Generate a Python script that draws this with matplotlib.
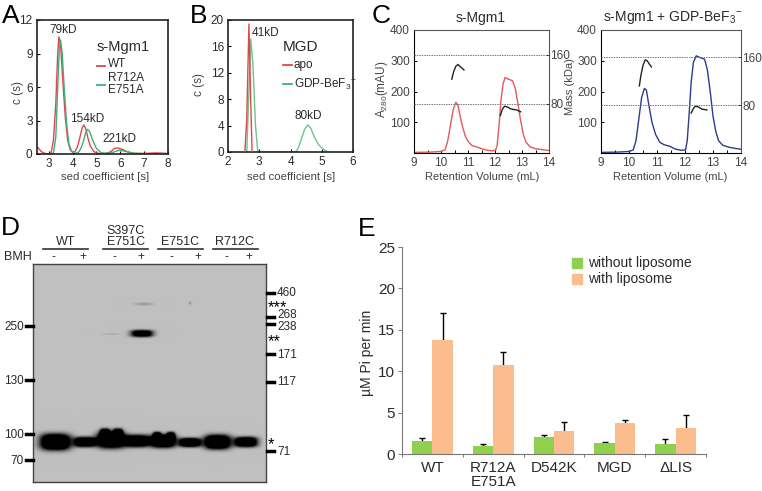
import matplotlib
matplotlib.use("Agg")
import matplotlib.pyplot as plt
import numpy as np

plt.rcParams['font.family'] = ['Liberation Sans', 'DejaVu Sans']
plt.rcParams['mathtext.default'] = 'regular'

W, H = 762, 491
TEXT = '#2a2a2a'
RED = '#e0474c'
GREEN = '#3fae7a'
LGREEN = '#6cc58a'
BLUE = '#2f3a8c'

# panel A
a_wt_x = [2.5, 2.6, 2.7, 2.85, 3.0, 3.1, 3.2, 3.3, 3.38, 3.43, 3.5, 3.58, 3.7, 3.8, 3.9, 4.0, 4.1, 4.2, 4.3, 4.4, 4.47, 4.55, 4.65, 4.75, 4.9, 5.1, 5.4, 5.6, 5.75, 5.9, 6.1, 6.3, 6.6, 7, 7.5, 8]
a_wt_y = [0.7, 0.45, 0.2, 0.05, 0, 0.1, 1.2, 4.5, 9, 10.5, 9.8, 7, 3.2, 1.2, 0.4, 0.15, 0.2, 0.6, 1.4, 2.3, 2.6, 2.3, 1.4, 0.7, 0.2, 0.05, 0.05, 0.2, 0.5, 0.55, 0.4, 0.2, 0.05, 0.05, 0.1, 0.05]
a_mut_x = [3.1, 3.2, 3.3, 3.38, 3.45, 3.5, 3.57, 3.65, 3.75, 3.85, 3.95, 4.1, 4.25, 4.35, 4.45, 4.55, 4.63, 4.72, 4.85, 5, 5.2, 5.5, 5.7, 5.95, 6.2, 6.5, 7, 8]
a_mut_y = [0, 0.1, 1.5, 6, 9.5, 10.2, 9, 6, 2.8, 0.9, 0.3, 0.05, 0.15, 0.5, 1.1, 1.9, 2.2, 2, 1.2, 0.5, 0.1, 0.05, 0.15, 0.35, 0.25, 0.08, 0.03, 0.03]

# panel B
b_apo_x = [2.54, 2.6, 2.67, 2.72, 2.77]
b_apo_y = [0, 5, 19.4, 9, 0]
b_gdp_x = [2.6, 2.73, 2.8, 2.88, 2.95, 3.0, 4.17, 4.25, 4.35, 4.45, 4.55, 4.65, 4.75, 4.9, 5.05, 5.2]
b_gdp_y = [0, 17.1, 13, 4, 0.2, 0, 0, 0.6, 2, 3.4, 4.1, 3.6, 2.4, 1.1, 0.4, 0]

# panel C
c1_x = [9, 9.6, 10, 10.15, 10.25, 10.35, 10.45, 10.55, 10.63, 10.72, 10.8, 10.9, 11, 11.15, 11.35, 11.5, 11.7, 11.9, 12.02, 12.08, 12.15, 12.22, 12.3, 12.37, 12.5, 12.65, 12.75, 12.85, 12.95, 13.05, 13.15, 13.3, 13.5, 14]
c1_y = [2, 3, 5, 10, 40, 90, 140, 165, 155, 115, 85, 55, 38, 24, 19, 14, 9, 7, 9, 25, 90, 170, 225, 245, 240, 235, 210, 160, 105, 60, 35, 20, 14, 8]
c1_m1_x = [10.4, 10.47, 10.55, 10.63, 10.72, 10.85]
c1_m1_y = [240, 265, 282, 288, 280, 270]
c1_m2_x = [12.2, 12.27, 12.35, 12.45, 12.6, 12.8, 12.95]
c1_m2_y = [122, 142, 152, 150, 143, 140, 134]

c2_x = [9, 9.6, 10, 10.15, 10.25, 10.35, 10.45, 10.55, 10.62, 10.72, 10.82, 10.95, 11.1, 11.25, 11.45, 11.65, 11.85, 12.02, 12.08, 12.15, 12.22, 12.3, 12.4, 12.55, 12.7, 12.8, 12.9, 13, 13.1, 13.2, 13.35, 13.6, 14]
c2_y = [2, 3, 5, 10, 40, 110, 180, 210, 205, 150, 100, 60, 35, 27, 22, 13, 9, 10, 40, 130, 230, 295, 316, 310, 305, 270, 200, 120, 70, 40, 25, 18, 12]
c2_m1_x = [10.37, 10.42, 10.5, 10.58, 10.65, 10.72, 10.8]
c2_m1_y = [218, 250, 285, 303, 300, 290, 280]
c2_m2_x = [12.22, 12.3, 12.37, 12.47, 12.6, 12.78]
c2_m2_y = [130, 145, 152, 150, 143, 140]

# panel D, band centre and half sizes in pixels of the blot
band_cx = [55.5, 85, 111, 137, 163, 190, 217.5, 246, 105, 118, 157, 171, 144, 142, 112, 190]
band_cy = [442, 442, 440, 441, 441, 442.5, 442, 442, 433, 433, 436, 436, 304, 333.5, 334, 303]
band_hw = [15, 11, 14, 12.5, 12.5, 11, 13, 11.5, 5, 5, 4, 4, 9, 11, 9, 1.5]
band_hh = [8, 5, 8, 6, 6.5, 4.5, 7, 5, 4.5, 4.5, 4, 4, 1.5, 3.5, 1, 1.5]
band_amp = [2, 1.7, 2, 1.8, 2, 1.8, 2, 1.8, 1.4, 1.4, 1.4, 1.4, 0.18, 1.5, 0.1, 0.2]

marker_left_y = [326, 380, 434, 460]
marker_left = ['250', '130', '100', '70']
marker_right_y = [293, 317, 324, 354, 382, 451]
marker_right_text_y = [293, 315, 327, 355, 382, 452]
marker_right = ['460', '268', '238', '171', '117', '71']

# panel E
e_labels = ['WT', 'R712A\nE751A', 'D542K', 'MGD', '\u0394LIS']
without_lipo = [1.6, 1.0, 2.0, 1.3, 1.2]
without_err = [0.3, 0.25, 0.3, 0.1, 0.6]
with_lipo = [13.8, 10.7, 2.75, 3.7, 3.1]
with_err = [3.25, 1.6, 1.15, 0.4, 1.6]

fig = plt.figure(figsize=(W / 100, H / 100), dpi=100)


def make_ax(left, top, right, bottom):
    return fig.add_axes([left / W, 1 - bottom / H, (right - left) / W, (bottom - top) / H])


def txt(x, y, s, size=8.5, ha='left', **kw):
    kw.setdefault('color', TEXT)
    fig.text(x / W, 1 - y / H, s, fontsize=size, ha=ha, va='center', **kw)


def dash(x0, x1, y, color, lw=1.3):
    fig.add_artist(plt.Line2D([x0 / W, x1 / W], [1 - y / H, 1 - y / H], color=color, lw=lw))


def style_box(ax, lw=1.2):
    for s in ax.spines.values():
        s.set_linewidth(lw)
        s.set_color('#222222')
    ax.tick_params(direction='in', length=2.5, width=0.8, labelsize=8.5, labelcolor=TEXT, pad=3)


# A
ax = make_ax(36.7, 20, 168, 154)
ax.plot(a_wt_x, a_wt_y, color=RED, lw=1)
ax.plot(a_mut_x, a_mut_y, color=GREEN, lw=1)
ax.set_xlim(2.5, 8)
ax.set_ylim(0, 12)
ax.set_xticks([3, 4, 5, 6, 7, 8])
ax.set_yticks([0, 3, 6, 9, 12])
style_box(ax)
txt(63, 30, '79kD', ha='center')
txt(87, 119, '154kD', ha='center')
txt(119, 139, '221kD', ha='center')
txt(97, 47, 's-Mgm1', size=10.5)
dash(97, 105, 65.5, RED)
txt(108, 64, 'WT')
dash(97, 105, 85, GREEN)
txt(108, 78, 'R712A')
txt(108, 90, 'E751A')
txt(105, 177, 'sed coefficient [s]', ha='center', color='#444444', size=8.2)
txt(18, 92, 'c (s)', ha='center', rotation=90, color='#444444')

# B
ax = make_ax(228, 20, 353, 152)
ax.plot(b_apo_x, b_apo_y, color=RED, lw=1, zorder=3)
ax.plot(b_gdp_x, b_gdp_y, color=LGREEN, lw=1)
ax.set_xlim(2, 6)
ax.set_ylim(0, 20)
ax.set_xticks([2, 3, 4, 5, 6])
ax.set_yticks([0, 4, 8, 12, 16, 20])
style_box(ax)
txt(265, 33, '41kD', ha='center')
txt(308, 116, '80kD', ha='center')
txt(283, 47, 'MGD', size=11)
dash(283, 292, 65, RED)
txt(294, 65, 'apo')
dash(283, 292, 84, GREEN)
txt(294, 84, 'GDP-BeF$_3$$^{-}$')
txt(291, 177, 'sed coefficient [s]', ha='center', color='#444444', size=8.2)
txt(199, 85, 'c (s)', ha='center', rotation=90, color='#444444')

# C
panels = [
    (make_ax(414, 30, 549, 153), c1_x, c1_y, '#e25a5a', c1_m1_x, c1_m1_y, c1_m2_x, c1_m2_y, 200),
    (make_ax(601, 30, 741, 153), c2_x, c2_y, BLUE, c2_m1_x, c2_m1_y, c2_m2_x, c2_m2_y, 205),
]
for ax, x, y, col, m1x, m1y, m2x, m2y, top in panels:
    ax.plot(x, y, color=col, lw=1)
    ax.plot(m1x, m1y, color='#222222', lw=1)
    ax.plot(m2x, m2y, color='#222222', lw=1)
    ax.set_xlim(9, 14)
    ax.set_ylim(0, 400)
    ax.set_xticks([9, 10, 11, 12, 13, 14])
    ax.set_xticks(np.arange(9.5, 14, 1), minor=True)
    ax.set_yticks([100, 200, 300, 400])
    ax.tick_params(which='both', direction='in', length=2, width=0.7, labelsize=8.5,
                   labelcolor='#444444', pad=3)
    ax.spines['top'].set_linewidth(0.8)
    ax.spines['right'].set_linewidth(0.8)
    ax.spines['top'].set_color('#555555')
    ax.spines['right'].set_color('#555555')
    ax2 = ax.twinx()
    ax2.set_ylim(0, top)
    ax2.set_yticks([80, 160])
    ax2.tick_params(direction='in', length=2, width=0.7, labelsize=8.5, labelcolor='#444444', pad=1)
    ax2.set_frame_on(False)
    for v in [80, 160]:
        ax2.axhline(v, color='#777777', lw=0.7, ls=(0, (1.5, 1)))
txt(481, 18, 's-Mgm1', size=10, ha='center')
txt(673, 18, 's-Mgm1 + GDP-BeF$_3$$^{-}$', size=10, ha='center')
txt(482, 177, 'Retention Volume (mL)', ha='center', color='#444444', size=8)
txt(670, 177, 'Retention Volume (mL)', ha='center', color='#444444', size=8)
txt(382, 89, 'A$_{280}$(mAU)', ha='center', rotation=90, color='#444444')
txt(570, 87, 'Mass (kDa)', ha='center', rotation=90, color='#444444', size=8)

# D
ax = make_ax(33, 264, 266, 482)
xx, yy = np.meshgrid(np.arange(33, 266) + 0.5, np.arange(264, 482) + 0.5)
dark = np.zeros_like(xx)
for cx, cy, hw, hh, amp in zip(band_cx, band_cy, band_hw, band_hh, band_amp):
    dark += amp * np.exp(-np.abs((xx - cx) / hw) ** 3 - np.abs((yy - cy) / hh) ** 3)
blot = 0.75 * (1 - np.clip(dark, 0, 1))
ax.imshow(blot, cmap='gray', vmin=0, vmax=1, extent=(33, 266, 482, 264), aspect='auto', interpolation='bilinear')
ax.set_xticks([])
ax.set_yticks([])
for s in ax.spines.values():
    s.set_linewidth(1)
    s.set_color('#444444')

for y, lab in zip(marker_left_y, marker_left):
    dash(26, 33, y, 'black', lw=2.5)
    txt(24, y + 1, lab, ha='right')
for y, ty, lab in zip(marker_right_y, marker_right_text_y, marker_right):
    dash(267, 274, y, 'black', lw=2.5)
    txt(277, ty, lab)
txt(277, 308, '***', size=12, ha='center', color='black')
txt(274, 342, '**', size=12, ha='center', color='black')
txt(271, 445, '*', size=12, ha='center', color='black')

for x0, x1 in [(43, 88), (103, 148), (158, 203), (213, 258)]:
    dash(x0, x1, 249, '#333333', lw=1.2)
txt(66, 242, 'WT', ha='center', size=9)
txt(126, 231, 'S397C', ha='center', size=9)
txt(126, 242, 'E751C', ha='center', size=9)
txt(180, 242, 'E751C', ha='center', size=9)
txt(235, 242, 'R712C', ha='center', size=9)
txt(4, 257, 'BMH', size=9)
for x in [53, 114, 171, 226]:
    txt(x, 257, '-', ha='center')
for x in [83, 141, 198, 249]:
    txt(x, 257, '+', ha='center')

# E
ax = make_ax(402, 247, 706, 454)
pos = np.arange(len(e_labels)) + 0.5
bw = 0.335
ax.bar(pos - bw / 2, without_lipo, bw, color='#8fd14f', zorder=2)
ax.bar(pos + bw / 2, with_lipo, bw, color='#fbbd8e', zorder=2)
# lower arm stays behind the bar, only the upper cap shows
ax.errorbar(pos - bw / 2, without_lipo, yerr=[[0.4] * 5, without_err], fmt='none',
            ecolor='black', elinewidth=1, capsize=2.2, capthick=1, zorder=1)
ax.errorbar(pos + bw / 2, with_lipo, yerr=[[0.4] * 5, with_err], fmt='none',
            ecolor='black', elinewidth=1, capsize=2.2, capthick=1, zorder=1)
ax.set_xlim(0, 5)
ax.set_ylim(0, 25)
ax.set_xticks(np.arange(0, 6))
ax.set_xticklabels([])
ax.set_xticks(pos, minor=True)
ax.set_xticklabels(e_labels, minor=True, fontsize=11, color=TEXT, linespacing=1.0)
ax.tick_params(axis='x', which='minor', length=0, pad=5)
ax.tick_params(axis='x', which='major', length=2, width=0.7, color='#777777')
ax.set_yticks([0, 5, 10, 15, 20, 25])
ax.tick_params(axis='y', length=3, width=0.7, color='#777777', labelsize=11, labelcolor=TEXT, pad=2)
ax.spines['top'].set_visible(False)
ax.spines['right'].set_visible(False)
ax.spines['left'].set_color('#777777')
ax.spines['bottom'].set_color('#777777')
txt(367, 353, '\u00b5M Pi per min', ha='center', rotation=90, size=10)
fig.patches.append(plt.Rectangle((572 / W, 1 - 268 / H), 10 / W, 10 / H, color='#8fd14f', transform=fig.transFigure))
fig.patches.append(plt.Rectangle((572 / W, 1 - 284 / H), 10 / W, 10 / H, color='#fbbd8e', transform=fig.transFigure))
txt(588, 263, 'without liposome', size=10)
txt(588, 279, 'with liposome', size=10)

# panel letters
for x, y, s in [(2, 16, 'A'), (190, 16, 'B'), (372, 16, 'C'), (1, 228, 'D'), (358, 229, 'E')]:
    txt(x, y, s, size=19, color='black')

fig.savefig('out.png', dpi=100)
